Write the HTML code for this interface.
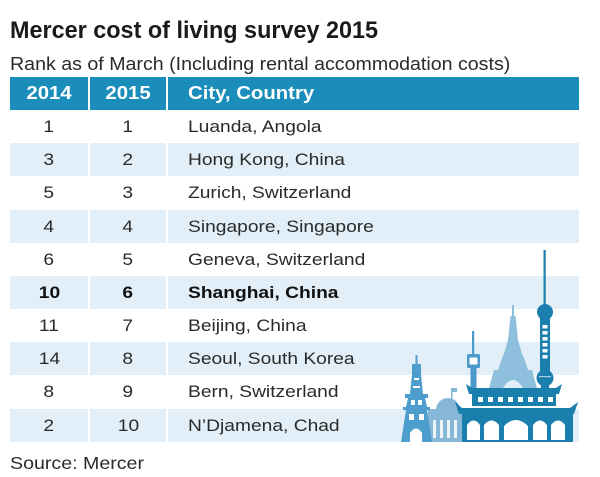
<!DOCTYPE html>
<html><head><meta charset="utf-8"><style>
body{margin:0;width:600px;height:477px;background:#fff;overflow:hidden;position:relative;font-family:"Liberation Sans",Arial,sans-serif;color:#222}
.a{position:absolute}
.title{position:absolute;left:10px;top:15px;font-size:24px;font-weight:bold;line-height:32px;white-space:nowrap;transform:scaleX(0.975);transform-origin:0 0;color:#1a1a1a}
.sub{position:absolute;left:10px;top:53px;font-size:18.5px;line-height:22px;white-space:nowrap;transform:scaleX(1.06);transform-origin:0 0;color:#2a2a2a}
.hd{position:absolute;top:77px;height:33px;background:#1a8dbb}
.lt{position:absolute;height:33px;background:#e2eff8}
.row{position:absolute;left:0;width:600px;height:33px;line-height:34px;font-size:17px;color:#2a2a2a}
.c1,.c2,.c3{position:absolute;top:0;white-space:nowrap}
.c1{left:10px;width:78px;text-align:center}
.c2{left:90px;width:76px;text-align:center}
.c3{left:188px}
.s{display:inline-block;transform:scaleX(1.13);transform-origin:50% 50%}
.c3 .s{transform-origin:0 50%}
.h{color:#fff;font-weight:bold;font-size:18px;line-height:33px;top:77px}
.b{font-weight:bold;color:#111}
.src{position:absolute;left:10px;top:453px;font-size:17.5px;line-height:20px;white-space:nowrap;transform:scaleX(1.12);transform-origin:0 0;color:#2a2a2a}
</style></head><body>
<div class="title">Mercer cost of living survey 2015</div>
<div class="sub">Rank as of March (Including rental accommodation costs)</div>

<div class="hd" style="left:10px;width:78px"></div>
<div class="hd" style="left:90px;width:76px"></div>
<div class="hd" style="left:168px;width:411px"></div>

<div class="lt" style="top:143px;left:10px;width:78px"></div><div class="lt" style="top:143px;left:90px;width:76px"></div><div class="lt" style="top:143px;left:168px;width:411px"></div>
<div class="lt" style="top:210px;left:10px;width:78px"></div><div class="lt" style="top:210px;left:90px;width:76px"></div><div class="lt" style="top:210px;left:168px;width:411px"></div>
<div class="lt" style="top:276px;left:10px;width:78px"></div><div class="lt" style="top:276px;left:90px;width:76px"></div><div class="lt" style="top:276px;left:168px;width:411px"></div>
<div class="lt" style="top:342px;left:10px;width:78px"></div><div class="lt" style="top:342px;left:90px;width:76px"></div><div class="lt" style="top:342px;left:168px;width:411px"></div>
<div class="lt" style="top:409px;left:10px;width:78px"></div><div class="lt" style="top:409px;left:90px;width:76px"></div><div class="lt" style="top:409px;left:168px;width:411px"></div>

<div class="row h" style="top:77px"><div class="c1"><span class="s">2014</span></div><div class="c2"><span class="s">2015</span></div><div class="c3"><span class="s">City, Country</span></div></div>

<div class="row" style="top:110px"><div class="c1"><span class="s">1</span></div><div class="c2"><span class="s">1</span></div><div class="c3"><span class="s">Luanda, Angola</span></div></div>
<div class="row" style="top:143px"><div class="c1"><span class="s">3</span></div><div class="c2"><span class="s">2</span></div><div class="c3"><span class="s">Hong Kong, China</span></div></div>
<div class="row" style="top:176px"><div class="c1"><span class="s">5</span></div><div class="c2"><span class="s">3</span></div><div class="c3"><span class="s">Zurich, Switzerland</span></div></div>
<div class="row" style="top:210px"><div class="c1"><span class="s">4</span></div><div class="c2"><span class="s">4</span></div><div class="c3"><span class="s">Singapore, Singapore</span></div></div>
<div class="row" style="top:243px"><div class="c1"><span class="s">6</span></div><div class="c2"><span class="s">5</span></div><div class="c3"><span class="s">Geneva, Switzerland</span></div></div>
<div class="row b" style="top:276px"><div class="c1"><span class="s">10</span></div><div class="c2"><span class="s">6</span></div><div class="c3"><span class="s">Shanghai, China</span></div></div>
<div class="row" style="top:309px"><div class="c1"><span class="s">11</span></div><div class="c2"><span class="s">7</span></div><div class="c3"><span class="s">Beijing, China</span></div></div>
<div class="row" style="top:342px"><div class="c1"><span class="s">14</span></div><div class="c2"><span class="s">8</span></div><div class="c3"><span class="s">Seoul, South Korea</span></div></div>
<div class="row" style="top:375px"><div class="c1"><span class="s">8</span></div><div class="c2"><span class="s">9</span></div><div class="c3"><span class="s">Bern, Switzerland</span></div></div>
<div class="row" style="top:409px"><div class="c1"><span class="s">2</span></div><div class="c2"><span class="s">10</span></div><div class="c3"><span class="s">N’Djamena, Chad</span></div></div>

<div class="src">Source: Mercer</div>

<svg class="a" style="left:0;top:0" width="600" height="477" viewBox="0 0 600 477">
  <!-- Eiffel (light, back) -->
  <g fill="#8ebfdc">
    <rect x="512" y="305" width="2" height="12"/>
    <polygon points="510.5,316 515.5,316 518,340 522,354 524,358 528,370 532,370 537,388 489,388 494,370 498,370 502,358 504,354 508,340"/>
  </g>
  <path d="M503 388 Q513 372 523 388 Z" fill="#e2eff8"/>
  <!-- Dome building -->
  <g fill="#86b7d7">
    <rect x="451" y="388" width="1.5" height="11"/>
    <rect x="452" y="388" width="5" height="4"/>
    <path d="M436 410 A12 12 0 0 1 460 410 Z"/>
    <rect x="428" y="409" width="34" height="4"/>
    <rect x="428" y="413" width="34" height="29"/>
  </g>
  <g fill="#ffffff" opacity="0.85">
    <rect x="433" y="420" width="3" height="18"/>
    <rect x="440" y="420" width="3" height="18"/>
    <rect x="447" y="420" width="3" height="18"/>
    <rect x="454" y="420" width="3" height="18"/>
  </g>
  <!-- Left tower -->
  <g fill="#4e9ecd">
    <rect x="415.5" y="355" width="2" height="10"/>
    <rect x="412" y="364" width="9" height="10"/>
    <polygon points="412,374 421,374 423,394 428,394 428,398 425,398 427,407 430,407 430,410 427,410 432,442 401,442 406,410 403,410 403,407 406,407 408,398 405,398 405,394 410,394"/>
  </g>
  <g fill="#ffffff">
    <rect x="414" y="378" width="5" height="2"/>
    <rect x="413" y="386" width="7" height="2"/>
    <rect x="411" y="400" width="4" height="5"/>
    <rect x="418" y="400" width="4" height="5"/>
    <rect x="409" y="414" width="5" height="6"/>
    <rect x="419" y="414" width="5" height="6"/>
    <path d="M410 442 L410 433 Q416 424 422 433 L422 442 Z"/>
  </g>
  <!-- Seoul tower -->
  <g fill="#4a9acb">
    <rect x="472" y="331" width="2.2" height="24"/>
    <rect x="467" y="354" width="13" height="14" rx="1.5"/>
    <rect x="470.5" y="367" width="6" height="26"/>
  </g>
  <rect x="469.5" y="357.5" width="8" height="7" fill="#ffffff"/>
  <!-- Pearl tower -->
  <g fill="#1b7fae">
    <rect x="543.5" y="250" width="2.2" height="56"/>
    <circle cx="545" cy="312" r="8"/>
    <rect x="540" y="318" width="10" height="56"/>
    <circle cx="545" cy="378" r="8.5"/>
    <rect x="541" y="384" width="8" height="6"/>
  </g>
  <g fill="#ffffff">
    <rect x="542.5" y="325" width="5" height="3.5"/>
    <rect x="542.5" y="331" width="5" height="3.5"/>
    <rect x="542.5" y="337" width="5" height="3.5"/>
    <rect x="542.5" y="343" width="5" height="3.5"/>
    <rect x="542.5" y="349" width="5" height="3.5"/>
    <rect x="542.5" y="355" width="5" height="3.5"/>
    <rect x="539" y="376" width="12" height="1.2" opacity="0.6"/>
  </g>
  <!-- Chinese building -->
  <g fill="#1b7fae">
    <polygon points="466,384 472,388 556,388 562,384 559,394 469,394"/>
    <rect x="472" y="393" width="84" height="13"/>
    <polygon points="455,402 462,408 570,408 578,402 574,414 459,414"/>
    <rect x="462" y="413" width="111" height="29"/>
  </g>
  <g fill="#ffffff">
    <rect x="478" y="397" width="5" height="5"/>
    <rect x="488" y="397" width="5" height="5"/>
    <rect x="498" y="397" width="5" height="5"/>
    <rect x="508" y="397" width="5" height="5"/>
    <rect x="518" y="397" width="5" height="5"/>
    <rect x="528" y="397" width="5" height="5"/>
    <rect x="538" y="397" width="5" height="5"/>
    <rect x="548" y="397" width="5" height="5"/>
    <path d="M467 440 L467 425 Q473.5 416 480 425 L480 440 Z"/>
    <path d="M484 440 L484 425 Q491.5 416 499 425 L499 440 Z"/>
    <path d="M504 440 L504 426 Q516 414 528 426 L528 440 Z"/>
    <path d="M533 440 L533 425 Q540 416 547 425 L547 440 Z"/>
    <path d="M551 440 L551 425 Q558 416 565 425 L565 440 Z"/>
  </g>
</svg>
</body></html>
